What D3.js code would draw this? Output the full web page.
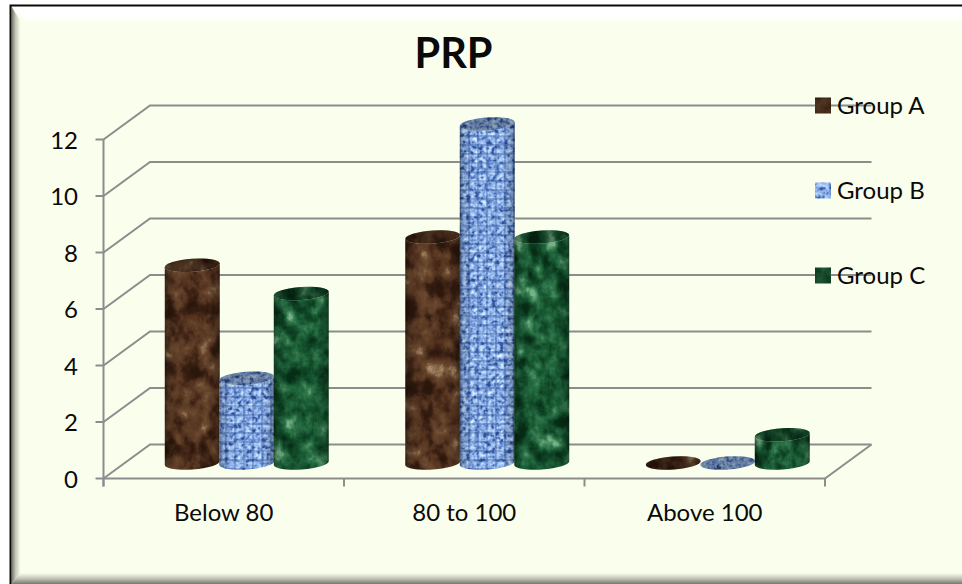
<!DOCTYPE html>
<html>
<head>
<meta charset="utf-8">
<script src="https://cdnjs.cloudflare.com/ajax/libs/d3/7.8.5/d3.min.js"></script>
<style>
html,body{margin:0;padding:0;background:#fff;}
svg{display:block;}
text{font-family:Lato,"Open Sans",sans-serif;fill:#0a0a0a;}
</style>
</head>
<body>
<div id="chart"></div>
<script>
const categories = ["Below 80", "80 to 100", "Above 100"];
const groupNames = ["Group A", "Group B", "Group C"];
const groupAValues = [7, 8, 0];
const groupBValues = [3, 12, 0];
const groupCValues = [6, 8, 1];
const yTicks = [0, 2, 4, 6, 8, 10, 12];
const chartTitle = "PRP";

const seriesValues = [groupAValues, groupBValues, groupCValues];
const W = 962, H = 584;

const svg = d3.select("#chart").append("svg").attr("width", W).attr("height", H);
const defs = svg.append("defs");

// Scales for the front plane of the 3D plot, plus the depth offset of the back wall
const y = d3.scaleLinear().domain([0, 12]).range([478.5, 139.5]);
const x0 = d3.scaleBand().domain(categories).range([103.5, 825]);
const xBar = d3.scaleBand().domain(d3.range(3)).range([61.5, 225]);
const depth = { dx: 46.5, dy: -34 };
const floorLift = 15.5;
const rx = 27.5, ry = 6.5, tilt = -4;

// Stone and woven fills built from filtered noise
function tableFilter(id, freq, octaves, seed, r, g, b) {
  const f = defs.append("filter").attr("id", id)
    .attr("filterUnits", "userSpaceOnUse")
    .attr("x", 0).attr("y", 0).attr("width", W).attr("height", H)
    .attr("color-interpolation-filters", "sRGB");
  f.append("feTurbulence").attr("type", "fractalNoise")
    .attr("baseFrequency", freq).attr("numOctaves", octaves).attr("seed", seed).attr("result", "n");
  f.append("feColorMatrix").attr("type", "matrix")
    .attr("values", "1 1 0 0 -0.5  1 1 0 0 -0.5  1 1 0 0 -0.5  0 0 0 0 1");
  const t = f.append("feComponentTransfer");
  t.append("feFuncR").attr("type", "table").attr("tableValues", r);
  t.append("feFuncG").attr("type", "table").attr("tableValues", g);
  t.append("feFuncB").attr("type", "table").attr("tableValues", b);
}
tableFilter("stoneBrown", "0.06 0.05", 5, 7,
  "0.17 0.17 0.20 0.26 0.34 0.38 0.42 0.56 0.70",
  "0.09 0.09 0.11 0.15 0.21 0.25 0.29 0.44 0.58",
  "0.05 0.05 0.06 0.09 0.13 0.16 0.19 0.32 0.44");
tableFilter("stoneGreen", "0.07 0.06", 5, 23,
  "0.03 0.03 0.05 0.07 0.10 0.14 0.20 0.32 0.46",
  "0.18 0.18 0.24 0.29 0.35 0.41 0.47 0.58 0.70",
  "0.09 0.09 0.13 0.16 0.20 0.25 0.30 0.41 0.52");
tableFilter("wovenBlue", "0.24 0.24", 2, 11,
  "0.20 0.20 0.32 0.45 0.56 0.64 0.72 0.82 0.90",
  "0.32 0.32 0.46 0.59 0.70 0.77 0.84 0.90 0.95",
  "0.60 0.60 0.73 0.84 0.92 0.96 0.99 1 1");

const weave = defs.append("pattern").attr("id", "weave").attr("patternUnits", "userSpaceOnUse")
  .attr("width", 9).attr("height", 9);
weave.append("rect").attr("width", 2.2).attr("height", 9).attr("fill", "#1d3f80").attr("opacity", 0.28);
weave.append("rect").attr("width", 9).attr("height", 2.2).attr("fill", "#1d3f80").attr("opacity", 0.28);

// Side shading that rounds each cylinder
const shade = defs.append("linearGradient").attr("id", "roundShade");
[[0, 0.45], [0.08, 0.15], [0.25, 0], [0.78, 0], [0.94, 0.22], [1, 0.5]].forEach(([o, a]) =>
  shade.append("stop").attr("offset", o).attr("stop-color", "#000").attr("stop-opacity", a));

// Frame bevel ramps
function ramp(id, x2, y2, stops) {
  const g = defs.append("linearGradient").attr("id", id)
    .attr("x1", 0).attr("y1", 0).attr("x2", x2).attr("y2", y2);
  stops.forEach(([o, c]) => g.append("stop").attr("offset", o).attr("stop-color", c));
}
ramp("bevelTop", 0, 1, [[0, "#ffffff"], [0.75, "#ffffff"], [1, "#f9ffec"]]);
ramp("bevelLeft", 1, 0, [[0, "#6e7066"], [0.45, "#c3c6b7"], [1, "#f9ffec"]]);
ramp("bevelBottom", 0, 1, [[0, "#f9ffec"], [0.5, "#c3c6b7"], [1, "#76786e"]]);

// Chart area and frame: the bottom and right edges run off the canvas
const frame = { l: 10.5, t: 5.5, r: 962, b: 584 };
svg.append("rect").attr("width", W).attr("height", H).attr("fill", "#ffffff");
svg.append("rect").attr("x", frame.l).attr("y", frame.t)
  .attr("width", frame.r - frame.l).attr("height", frame.b - frame.t).attr("fill", "#f9ffec");
const bev = 9, bevTop = 15, bevBot = 11;
const L = frame.l + 1, T = frame.t + 1, R = frame.r, B = frame.b;
svg.append("path").attr("fill", "url(#bevelTop)")
  .attr("d", `M${L},${T}H${R}V${T + bevTop}H${L + bevTop}Z`);
svg.append("path").attr("fill", "url(#bevelLeft)")
  .attr("d", `M${L},${T}L${L + bev},${T + bevTop}V${B - bevBot}L${L},${B}Z`);
svg.append("path").attr("fill", "url(#bevelBottom)")
  .attr("d", `M${L},${B}L${L + bev},${B - bevBot}H${R}V${B}Z`);
svg.append("path").attr("fill", "none").attr("stroke", "#0a0a0a").attr("stroke-width", 2)
  .attr("d", `M${frame.l},${frame.b}V${frame.t}H${frame.r}`);

// Floor and wall gridlines
const grid = svg.append("g").attr("fill", "none").attr("stroke", "#8c8c8c").attr("stroke-width", 2);
grid.selectAll("path.grid").data(yTicks).join("path").attr("class", "grid")
  .attr("d", d => `M${x0.range()[0]},${y(d)}l${depth.dx},${depth.dy}H${x0.range()[1] + depth.dx}`);
grid.append("path")
  .attr("d", `M${x0.range()[1]},${y(0)}l${depth.dx},${depth.dy}`);

// Value axis and category axis on the front plane
const axisG = svg.append("g").attr("stroke", "#8c8c8c").attr("stroke-width", 2).attr("fill", "none");
axisG.append("path").attr("d", `M${x0.range()[0]},${y(12)}V${y(0) + 8}`);
axisG.append("path").attr("d", `M${x0.range()[0]},${y(0)}H${x0.range()[1]}`);
axisG.selectAll("path.ytick").data(yTicks).join("path").attr("class", "ytick")
  .attr("d", d => `M${x0.range()[0] - 8},${y(d)}H${x0.range()[0]}`);
const xEdges = categories.map(c => x0(c)).concat(x0.range()[1]);
axisG.selectAll("path.xtick").data(xEdges).join("path").attr("class", "xtick")
  .attr("d", d => `M${d},${y(0)}v8`);

svg.append("g").selectAll("text").data(yTicks).join("text")
  .attr("x", 78).attr("y", d => y(d) + 9).attr("text-anchor", "end")
  .attr("font-size", 24).text(d => d);
svg.append("g").selectAll("text").data(categories).join("text")
  .attr("x", c => x0(c) + x0.bandwidth() / 2).attr("y", 521).attr("text-anchor", "middle")
  .attr("font-size", 24).text(c => c);

// Cylinders, drawn left to right so each overlaps the one before it
const fills = ["stoneBrown", "wovenBlue", "stoneGreen"];
const bars = [];
categories.forEach((c, ci) => seriesValues.forEach((vals, si) => {
  bars.push({ c, ci, si, v: vals[ci] });
}));
const barG = svg.append("g");
bars.forEach((d, i) => {
  const cx = x0(d.c) + xBar(d.si) + xBar.bandwidth() / 2;
  const base = y(0) - floorLift;
  const top = base - (y(0) - y(d.v));
  const rad = tilt * Math.PI / 180;
  const ex = rx * Math.cos(rad), ey = rx * Math.sin(rad);
  const arcB = `A${rx},${ry} ${tilt} 0 0`;
  const body = `M${cx - ex},${top - ey}L${cx - ex},${base - ey}${arcB} ${cx + ex},${base + ey}L${cx + ex},${top + ey}${arcB.replace("0 0", "0 1")} ${cx - ex},${top - ey}Z`;
  const clipId = `clip-${i}`;
  const capId = `cap-${i}`;
  defs.append("clipPath").attr("id", clipId).append("path").attr("d", body);
  defs.append("clipPath").attr("id", capId).append("ellipse")
    .attr("rx", rx).attr("ry", ry).attr("transform", `translate(${cx},${top}) rotate(${tilt})`);

  const g = barG.append("g");
  if (d.v > 0) {
    const side = g.append("g").attr("clip-path", `url(#${clipId})`);
    const box = { x: cx - rx - 1, y: top - ry - 3, width: 2 * rx + 2, height: base - top + 2 * ry + 6 };
    side.append("rect").attr("x", box.x).attr("y", box.y).attr("width", box.width).attr("height", box.height)
      .attr("filter", `url(#${fills[d.si]})`);
    if (d.si === 1) side.append("rect").attr("x", box.x).attr("y", box.y).attr("width", box.width).attr("height", box.height)
      .attr("fill", "url(#weave)");
    side.append("rect").attr("x", box.x).attr("y", box.y).attr("width", box.width).attr("height", box.height)
      .attr("fill", "url(#roundShade)");
  }
  const cap = g.append("g").attr("clip-path", `url(#${capId})`);
  cap.append("rect").attr("x", cx - rx - 1).attr("y", top - ry - 3).attr("width", 2 * rx + 2).attr("height", 2 * ry + 6)
    .attr("filter", `url(#${fills[d.si]})`);
  cap.append("rect").attr("x", cx - rx - 1).attr("y", top - ry - 3).attr("width", 2 * rx + 2).attr("height", 2 * ry + 6)
    .attr("fill", "#000").attr("opacity", 0.3);
});

// Legend keys and labels
const legendY = d3.scalePoint().domain(groupNames).range([105.5, 275.5]);
const legend = svg.append("g");
groupNames.forEach((name, i) => {
  const ly = legendY(name);
  const clip = `legend-${i}`;
  defs.append("clipPath").attr("id", clip).append("rect")
    .attr("x", 815).attr("y", ly - 8).attr("width", 16).attr("height", 16);
  const k = legend.append("g").attr("clip-path", `url(#${clip})`);
  k.append("rect").attr("x", 815).attr("y", ly - 8).attr("width", 16).attr("height", 16)
    .attr("filter", `url(#${fills[i]})`);
  k.append("rect").attr("x", 815).attr("y", ly - 8).attr("width", 16).attr("height", 16)
    .attr("fill", "#000").attr("opacity", i === 1 ? 0 : 0.25);
  legend.append("text").attr("x", 837).attr("y", ly + 8).attr("font-size", 24).text(name);
});

svg.append("text").attr("x", 453.5).attr("y", 68).attr("text-anchor", "middle")
  .attr("font-size", 41.5).attr("font-weight", 700).text(chartTitle);
</script>
</body>
</html>
